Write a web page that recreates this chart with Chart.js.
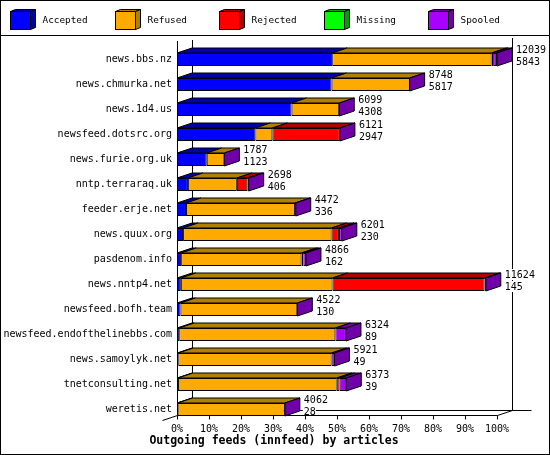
<!DOCTYPE html>
<html>
<head>
<meta charset="utf-8">
<script src="https://cdn.jsdelivr.net/npm/chart.js@4/dist/chart.umd.min.js"></script>
<style>
  body { margin: 0; background: #fff; }
  canvas { display: block; }
</style>
</head>
<body>
<canvas id="feeds" width="550" height="455"></canvas>
<script>
// outgoing feeds, values are percent of the biggest feed (news.bbs.nz)
var feeds = ['news.bbs.nz', 'news.chmurka.net', 'news.1d4.us', 'newsfeed.dotsrc.org', 'news.furie.org.uk',
  'nntp.terraraq.uk', 'feeder.erje.net', 'news.quux.org', 'pasdenom.info', 'news.nntp4.net',
  'newsfeed.bofh.team', 'newsfeed.endofthelinebbs.com', 'news.samoylyk.net', 'tnetconsulting.net', 'weretis.net'];
var offered = [12039, 8748, 6099, 6121, 1787, 2698, 4472, 6201, 4866, 11624, 4522, 6324, 5921, 6373, 4062];
var acceptedArticles = [5843, 5817, 4308, 2947, 1123, 406, 336, 230, 162, 145, 130, 89, 49, 39, 28];

var accepted = [48.5, 48.3, 35.8, 24.5, 9.3, 3.4, 2.8, 1.9, 1.3, 1.2, 1.1, 0.7, 0.4, 0.3, 0.2];
var refused  = [49.8, 24.4, 14.9, 5.3, 5.5, 15.3, 34.1, 46.4, 37.6, 47.4, 36.5, 48.8, 47.9, 49.6, 33.5];
var rejected = [0.5, 0, 0, 21.1, 0, 3.3, 0.2, 2.3, 0.6, 47.5, 0, 0, 0, 0.9, 0];
var missing  = [0, 0, 0, 0, 0, 0, 0, 0, 0, 0, 0, 0, 0, 0, 0];
var spooled  = [1.2, 0, 0, 0, 0, 0.4, 0, 0.9, 0.8, 0.4, 0, 3.3, 0.9, 2.1, 0];

var seriesNames = ['Accepted', 'Refused', 'Rejected', 'Missing', 'Spooled'];
var seriesColors = ['#0000ff', '#ffaa00', '#ff0000', '#00ff00', '#aa00ff'];
var seriesShades = ['#0000aa', '#b08000', '#b00000', '#00a000', '#7000a8'];
var xTicks = [0, 10, 20, 30, 40, 50, 60, 70, 80, 90, 100];
var chartTitle = 'Outgoing feeds (innfeed) by articles';

var mono = '"DejaVu Sans Mono", "Liberation Mono", monospace';
var DX = 15, DY = 5;

function poly(ctx, pts, fill) {
  ctx.beginPath();
  ctx.moveTo(pts[0][0], pts[0][1]);
  for (var i = 1; i < pts.length; i++) ctx.lineTo(pts[i][0], pts[i][1]);
  ctx.closePath();
  ctx.fillStyle = fill;
  ctx.fill();
  ctx.stroke();
}

function line(ctx, x1, y1, x2, y2) {
  ctx.beginPath();
  ctx.moveTo(x1, y1);
  ctx.lineTo(x2, y2);
  ctx.stroke();
}

var cube3d = {
  id: 'cube3d',
  beforeDatasetsDraw: function (chart) {
    var ctx = chart.ctx, a = chart.chartArea, sx = chart.scales.x;
    var left = Math.round(sx.getPixelForValue(0)) + 0.5;
    var right = Math.round(sx.getPixelForValue(100)) + 0.5;
    var last = chart.getDatasetMeta(0).data[feeds.length - 1];
    var floor = Math.round(last.y + last.height / 2) - 0.5;
    ctx.save();
    ctx.strokeStyle = '#000';
    ctx.lineWidth = 1;
    line(ctx, left + DX, a.top - 7, left + DX, floor - DY);
    line(ctx, right + DX, a.top - 9, right + DX, floor - DY);
    line(ctx, left + DX, floor - DY, right + DX + 19, floor - DY);
    line(ctx, left, a.top - 6, left, floor);
    ctx.restore();
  },
  afterDatasetsDraw: function (chart) {
    var ctx = chart.ctx, sx = chart.scales.x;
    var n = chart.data.datasets.length;
    ctx.save();
    ctx.strokeStyle = '#000';
    ctx.lineWidth = 1;
    for (var i = 0; i < feeds.length; i++) {
      var end = 0, yt = 0, yb = 0;
      for (var j = 0; j < n; j++) {
        var el = chart.getDatasetMeta(j).data[i];
        yt = el.y - el.height / 2;
        yb = el.y + el.height / 2;
        if (chart.data.datasets[j].data[i] > 0) {
          poly(ctx, [[el.base, yt], [el.base + DX, yt - DY], [el.x + DX, yt - DY], [el.x, yt]], seriesShades[j]);
          end = Math.max(end, el.x);
        }
      }
      poly(ctx, [[end, yt], [end + DX, yt - DY], [end + DX, yb - DY], [end, yb]], seriesShades[n - 1]);

      // offered / accepted counts
      ctx.font = '10px ' + mono;
      ctx.textBaseline = 'alphabetic';
      ctx.textAlign = 'left';
      var tx = end + DX + 4;
      var rows = [[String(offered[i]), yb - 13], [String(acceptedArticles[i]), yb - 1]];
      rows.forEach(function (r) {
        var w = ctx.measureText(r[0]).width;
        ctx.fillStyle = '#fff';
        ctx.fillRect(tx - 1, r[1] - 9, w + 1, 11);
        ctx.fillStyle = '#000';
        ctx.fillText(r[0], tx, r[1]);
      });
    }

    // front floor edge and ticks
    var left = Math.round(sx.getPixelForValue(0)) + 0.5;
    var right = Math.round(sx.getPixelForValue(100)) + 0.5;
    var last = chart.getDatasetMeta(0).data[feeds.length - 1];
    var floor = Math.round(last.y + last.height / 2) - 0.5;
    line(ctx, left, floor, right, floor);
    xTicks.forEach(function (t) {
      var px = Math.round(sx.getPixelForValue(t)) + 0.5;
      line(ctx, px, floor, px, floor + 4);
    });
    line(ctx, right, floor, right + DX, floor - DY);
    line(ctx, left, floor, left - DX, floor + DY);
    ctx.restore();
  },
  afterDraw: function (chart) {
    var ctx = chart.ctx;
    ctx.save();
    ctx.strokeStyle = '#000';
    ctx.lineWidth = 1;
    // legend with little cubes
    for (var i = 0; i < seriesNames.length; i++) {
      var bx = Math.round(10 + i * 104.6) + 0.5, by = 11.5;
      poly(ctx, [[bx, by], [bx + 5, by - 2], [bx + 25, by - 2], [bx + 20, by]], seriesShades[i]);
      poly(ctx, [[bx + 20, by], [bx + 25, by - 2], [bx + 25, by + 16], [bx + 20, by + 18]], seriesShades[i]);
      ctx.fillStyle = seriesColors[i];
      ctx.fillRect(bx, by, 20, 18);
      ctx.strokeRect(bx, by, 20, 18);
      ctx.fillStyle = '#000';
      ctx.font = '9.4px ' + mono;
      ctx.textBaseline = 'middle';
      ctx.textAlign = 'left';
      ctx.fillText(seriesNames[i], bx + 32, 20.5);
    }
    line(ctx, 0, 35.5, 550, 35.5);
    ctx.strokeRect(0.5, 0.5, 549, 454);
    ctx.font = 'bold 11.5px ' + mono;
    ctx.textAlign = 'center';
    ctx.textBaseline = 'middle';
    ctx.fillStyle = '#000';
    ctx.fillText(chartTitle, 274, 441.5);
    ctx.restore();
  }
};

var datasets = [accepted, refused, rejected, missing, spooled].map(function (vals, j) {
  return {
    label: seriesNames[j],
    data: vals,
    backgroundColor: seriesColors[j],
    borderColor: '#000',
    borderWidth: 1,
    borderSkipped: false,
    barThickness: 13,
    inflateAmount: 0,
    clip: false
  };
});

new Chart(document.getElementById('feeds'), {
  type: 'bar',
  data: { labels: feeds, datasets: datasets },
  options: {
    indexAxis: 'y',
    responsive: false,
    animation: false,
    layout: { padding: { left: 3, top: 47, right: 53, bottom: 19 } },
    plugins: {
      legend: { display: false },
      tooltip: { enabled: false }
    },
    scales: {
      x: {
        stacked: true,
        min: 0,
        max: 100,
        grid: { display: false, drawTicks: false, tickLength: 0 },
        border: { display: false },
        afterFit: function (scale) { scale.height = 14; },
        ticks: {
          stepSize: 10,
          padding: 1,
          color: '#000',
          font: { family: mono, size: 10 },
          callback: function (v) { return v + '%'; }
        }
      },
      y: {
        stacked: true,
        grid: { display: false, drawTicks: false, tickLength: 0 },
        border: { display: false },
        afterFit: function (scale) { scale.width = 174; },
        ticks: {
          padding: 5,
          color: '#000',
          autoSkip: false,
          font: { family: mono, size: 10 }
        }
      }
    }
  },
  plugins: [cube3d]
});
</script>
</body>
</html>
